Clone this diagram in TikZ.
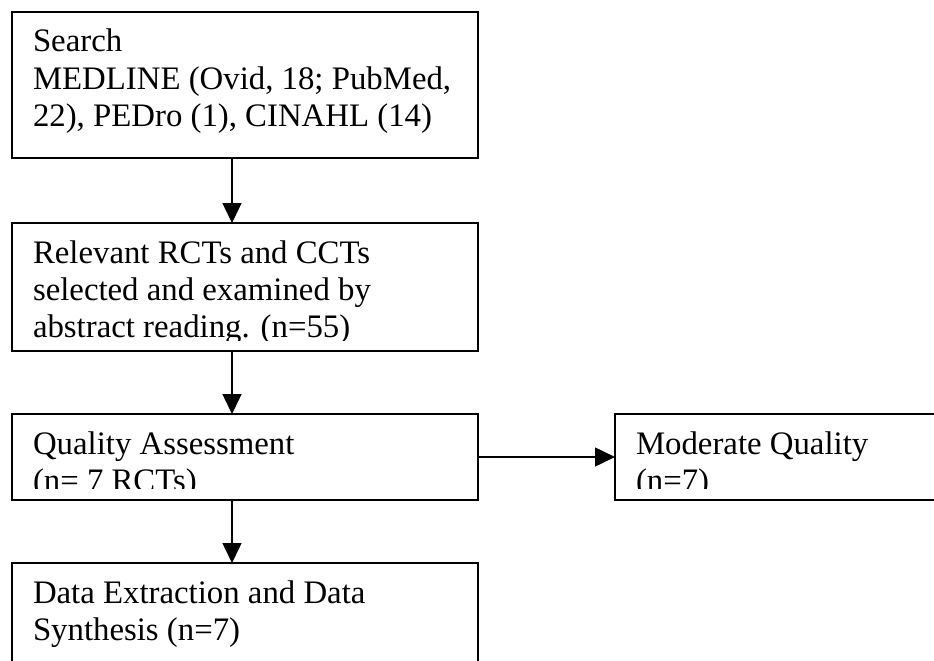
\documentclass[tikz,border=0pt]{standalone}
\usepackage{fontspec}
\setmainfont{Liberation Serif}
\usetikzlibrary{arrows.meta,calc}
\tikzset{
  box/.style={draw=black, line width=1.5pt, rectangle, inner sep=0pt, outer sep=0pt, anchor=north west},
  txt/.style={inner sep=0pt, outer sep=0pt, anchor=base west, font=\fontsize{32.8}{37}\selectfont},
  arr/.style={line width=1.5pt, -{Triangle[length=20pt,width=19pt]}}
}
\begin{document}
\begin{tikzpicture}[x=1pt,y=-1pt]
\clip (0,0) rectangle (934,661);
\fill[white] (0,0) rectangle (934,661);
% boxes
\node[box, minimum width=466pt, minimum height=146pt] (b1) at (12,12) {};
\node[box, minimum width=466pt, minimum height=128pt] (b2) at (12,223) {};
\node[box, minimum width=466pt, minimum height=86pt] (b3) at (12,414) {};
\node[box, minimum width=345pt, minimum height=86pt] (b4) at (615,414) {};
\node[box, minimum width=466pt, minimum height=127pt] (b5) at (12,563) {};
% texts
\node[txt] (t1a) at (33,52) {Search};
\node[txt] (t1b) at (33,89) {MEDLINE (Ovid, 18; PubMed,};
\node[txt] (t1c) at (33,126) {22), PEDro (1), CINAHL (14)};
\begin{scope}
\clip (0,200) rectangle (500,340);
\node[txt] (t2a) at (33,263) {Relevant RCTs and CCTs};
\node[txt] (t2b) at (33,300) {selected and examined by};
\node[txt] (t2c) at (33,337) {abstract reading. (n=55)};
\end{scope}
\begin{scope}
\clip (0,400) rectangle (934,488);
\node[txt] (t3a) at (33,454) {Quality Assessment};
\node[txt] (t3b) at (33,491) {(n= 7 RCTs)};
\node[txt] (t4a) at (636,454) {Moderate Quality};
\node[txt] (t4b) at (636,491) {(n=7)};
\end{scope}
\node[txt] (t5a) at (33,603) {Data Extraction and Data};
\node[txt] (t5b) at (33,640) {Synthesis (n=7)};
% arrows
\draw[arr] ($(b1.south west)+(220,0)$) -- ($(b2.north west)+(220,0)$);
\draw[arr] ($(b2.south west)+(220,0)$) -- ($(b3.north west)+(220,0)$);
\draw[arr] ($(b3.south west)+(220,0)$) -- ($(b5.north west)+(220,0)$);
\draw[arr] (b3.east) -- (b4.west);
\end{tikzpicture}
\end{document}
